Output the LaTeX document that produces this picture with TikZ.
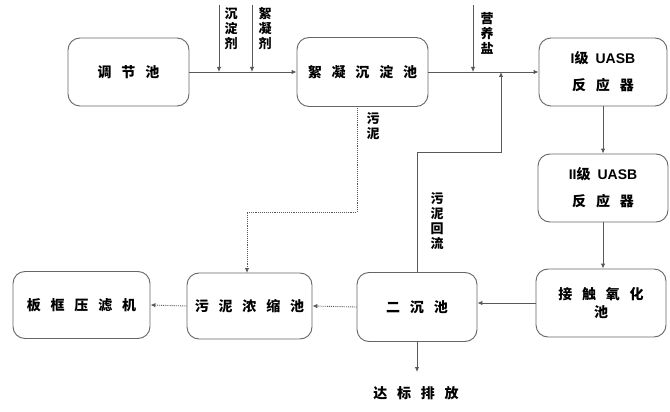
\documentclass[tikz,border=0pt]{standalone}
\usepackage{fontspec}
\setmainfont{Noto Sans CJK SC}
\newfontfamily\lat{Liberation Sans}
\usetikzlibrary{arrows.meta}
\newcommand\gp{\hspace{0.7em}}
\begin{document}
\begin{tikzpicture}[x=1pt,y=-1pt,
  box/.style={draw=black!60,line width=0.9pt,rounded corners=12pt,fill=white,inner sep=0pt,align=center,font=\fontsize{14}{27}\selectfont\bfseries},
  conn/.style={draw=black!65,line width=0.9pt},
  arr/.style={conn,-{Latex[length=5pt,width=4.5pt]}},
  dotarr/.style={draw=black!65,line width=0.9pt,densely dotted,-{Latex[length=5pt,width=4.5pt]}},
  vlab/.style={align=center,inner sep=0pt,font=\fontsize{13}{15}\selectfont\bfseries},
  lab/.style={inner sep=0pt,font=\fontsize{14}{16}\selectfont\bfseries}]
\useasboundingbox (0,0) rectangle (670,412);
\fill[white] (0,0) rectangle (670,412);

\node[box,minimum width=121pt,minimum height=68pt] (tj) at (128.5,72) {调\gp 节\gp 池};
\node[box,minimum width=131pt,minimum height=69pt] (xn) at (362.5,72) {絮\gp 凝\gp 沉\gp 淀\gp 池};
\node[box,minimum width=128pt,minimum height=68pt] (u1) at (603,72) {{\lat I}级\hspace{0.5em}{\lat UASB}\\反\gp 应\gp 器};
\node[box,minimum width=130pt,minimum height=68pt] (u2) at (603,188) {{\lat II}级\hspace{0.5em}{\lat UASB}\\反\gp 应\gp 器};
\node[box,minimum width=130pt,minimum height=68pt,font=\fontsize{14}{18}\selectfont\bfseries] (jc) at (601,303) {接\gp 触\gp 氧\gp 化\\池};
\node[box,minimum width=120pt,minimum height=69pt] (ec) at (417,307) {二\gp 沉\gp 池};
\node[box,minimum width=125pt,minimum height=66pt] (wn) at (249.5,306) {污\gp 泥\gp 浓\gp 缩\gp 池};
\node[box,minimum width=137pt,minimum height=67pt] (bk) at (81.5,305) {板\gp 框\gp 压\gp 滤\gp 机};

% main line
\draw[arr] (tj.east) -- (xn.west);
\draw[arr] (xn.east) -- (u1.west);

% dosing arrows
\coordinate (c1s) at (219,5); \coordinate (c1e) at (219,72);
\coordinate (c2s) at (252,5); \coordinate (c2e) at (252,72);
\coordinate (c3s) at (473,5); \coordinate (c3e) at (473,72);
\draw[arr] (c1s) -- (c1e);
\draw[arr] (c2s) -- (c2e);
\draw[arr] (c3s) -- (c3e);
\node[vlab] (l1) at (231,29) {沉\\淀\\剂};
\node[vlab] (l2) at (265,29) {絮\\凝\\剂};
\node[vlab] (l3) at (487,33) {营\\养\\盐};

% UASB chain
\draw[arr] (u1.south) -- (u2.north);
\draw[arr] (u2.south) -- (u2.south |- jc.north);
\draw[arr] (jc.west) -- (jc.west -| ec.east);

% sludge return
\coordinate (r1) at (501,152);
\coordinate (r2) at (501,72);
\draw[arr] (ec.north) |- (r1) -- (r2);
\node[vlab] (l4) at (437,221) {污\\泥\\回\\流};

% discharge
\coordinate (dout) at (417,372);
\draw[arr] (ec.south) -- (dout);
\node[lab] (l5) at (416,393) {达\gp 标\gp 排\gp 放};

% sludge dotted lines
\coordinate (d0) at (357,106.5);
\coordinate (d1) at (247,212);
\coordinate (d2) at (247,273);
\draw[dotarr] (d0) |- (d1) -- (d2);
\node[vlab] (l6) at (373,126) {污\\泥};
\draw[dotarr] (ec.west) -- (wn.east);
\draw[dotarr] (wn.west) -- (bk.east);
\end{tikzpicture}
\end{document}
